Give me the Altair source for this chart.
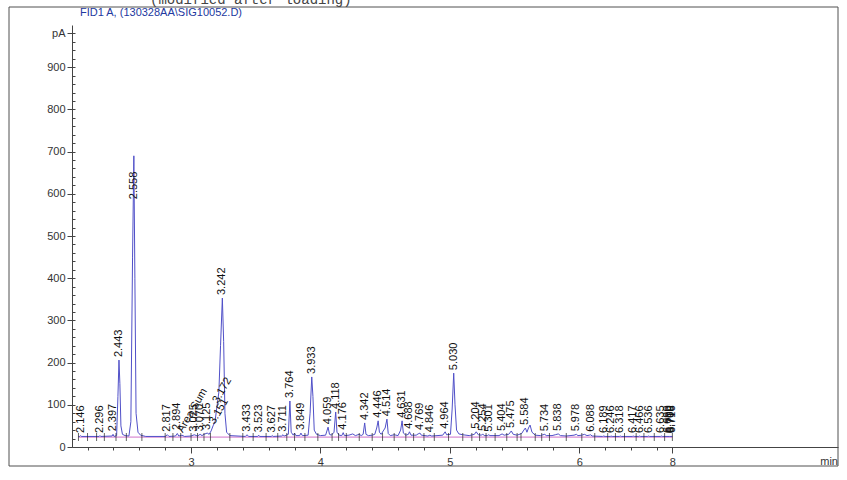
import altair as alt
import pandas as pd

# ---------------- data ----------------
# chromatogram trace: retention time (min) and signal (pA)
sig_t = [2.130, 2.140, 2.146, 2.152, 2.290, 2.296, 2.302, 2.390, 2.397, 2.405,
         2.425, 2.435, 2.443, 2.450, 2.458, 2.470, 2.490, 2.520, 2.535, 2.548,
         2.558, 2.566, 2.575, 2.590, 2.610, 2.650, 2.800, 2.817, 2.830, 2.880,
         2.894, 2.905, 2.930, 2.950, 3.000, 3.025, 3.050, 3.070, 3.085, 3.100,
         3.125, 3.140, 3.155, 3.170, 3.185, 3.200, 3.215, 3.228, 3.242, 3.252,
         3.262, 3.275, 3.300, 3.420, 3.433, 3.445, 3.515, 3.523, 3.530, 3.620,
         3.627, 3.635, 3.700, 3.711, 3.720, 3.752, 3.764, 3.774, 3.790, 3.800,
         3.810, 3.840, 3.849, 3.860, 3.905, 3.920, 3.933, 3.942, 3.952, 3.970,
         4.000, 4.040, 4.059, 4.070, 4.085, 4.105, 4.118, 4.128, 4.145, 4.165,
         4.176, 4.185, 4.220, 4.250, 4.270, 4.300, 4.315, 4.330, 4.342, 4.352,
         4.370, 4.400, 4.420, 4.435, 4.446, 4.456, 4.470, 4.485, 4.500, 4.514,
         4.524, 4.540, 4.570, 4.600, 4.620, 4.631, 4.641, 4.660, 4.680, 4.688,
         4.700, 4.740, 4.755, 4.769, 4.780, 4.830, 4.846, 4.860, 4.945, 4.964,
         4.975, 5.005, 5.018, 5.030, 5.040, 5.052, 5.070, 5.100, 5.150, 5.190,
         5.204, 5.220, 5.245, 5.254, 5.265, 5.290, 5.301, 5.310, 5.380, 5.404,
         5.420, 5.455, 5.475, 5.490, 5.520, 5.555, 5.572, 5.584, 5.596, 5.608,
         5.620, 5.635, 5.660, 5.700, 5.720, 5.734, 5.745, 5.790, 5.815, 5.838,
         5.855, 5.900, 5.960, 5.978, 5.990, 6.020, 6.040, 6.060, 6.078, 6.088,
         6.100, 6.180, 6.189, 6.200, 6.240, 6.246, 6.255, 6.310, 6.318, 6.326,
         6.410, 6.417, 6.425, 6.460, 6.466, 6.474, 6.530, 6.536, 6.544, 6.628,
         6.635, 6.643, 6.700, 6.720]
sig_v = [25, 25, 27, 25, 25, 27, 25, 26, 30, 25,
         27, 120, 206, 150, 50, 30, 27, 26, 60, 450,
         690, 400, 80, 35, 28, 25, 25, 29, 25, 26,
         32, 26, 28, 25, 26, 29, 26, 30, 27, 30,
         33, 30, 38, 50, 60, 95, 130, 240, 353, 250,
         80, 35, 27, 25, 29, 25, 25, 28, 25, 25,
         27, 25, 26, 29, 26, 30, 109, 35, 28, 33,
         27, 27, 33, 27, 28, 80, 166, 120, 40, 30,
         27, 28, 47, 30, 28, 35, 83, 35, 28, 27,
         34, 27, 28, 31, 27, 30, 27, 30, 57, 30,
         27, 28, 30, 45, 62, 35, 30, 38, 45, 66,
         32, 27, 29, 27, 40, 62, 33, 28, 30, 36,
         28, 28, 31, 33, 28, 26, 28, 26, 28, 36,
         29, 30, 90, 175, 100, 40, 31, 29, 27, 30,
         36, 29, 28, 31, 27, 27, 29, 27, 27, 31,
         28, 30, 38, 30, 28, 32, 40, 45, 35, 45,
         52, 35, 28, 27, 29, 30, 27, 27, 29, 31,
         27, 26, 28, 30, 27, 28, 30, 27, 28, 29,
         26, 25, 26, 25, 25, 26, 25, 25, 26, 25,
         25, 26, 25, 25, 26, 25, 25, 26, 25, 25,
         26, 25, 25, 25]

# integration baseline
base_t = [2.130, 6.720]
base_v = [23.5, 23.5]

# peak labels (retention time, text, pA level where the label starts)
peak_t = [2.146, 2.296, 2.397, 2.443, 2.558, 2.817, 2.894, 3.025, 3.070, 3.125,
          3.242, 3.433, 3.523, 3.627, 3.711, 3.764, 3.849, 3.933, 4.059, 4.118,
          4.176, 4.342, 4.446, 4.514, 4.631, 4.688, 4.769, 4.846, 4.964, 5.030,
          5.204, 5.254, 5.301, 5.404, 5.475, 5.584, 5.734, 5.838, 5.978, 6.088,
          6.189, 6.246, 6.318, 6.417, 6.466, 6.536, 6.635, 6.690, 6.700, 6.709,
          6.716]
peak_lbl = ["2.146", "2.296", "2.397", "2.443", "2.558", "2.817", "2.894", "3.025",
            "3.070", "3.125", "3.242", "3.433", "3.523", "3.627", "3.711", "3.764",
            "3.849", "3.933", "4.059", "4.118", "4.176", "4.342", "4.446", "4.514",
            "4.631", "4.688", "4.769", "4.846", "4.964", "5.030", "5.204", "5.254",
            "5.301", "5.404", "5.475", "5.584", "5.734", "5.838", "5.978", "6.088",
            "6.189", "6.246", "6.318", "6.417", "6.466", "6.536", "6.635", "6.690",
            "6.700", "6.709", "6.716"]
peak_h = [26, 26, 30, 206, 580, 29, 33, 29, 30, 33,
          353, 29, 28, 27, 29, 109, 33, 166, 47, 83,
          34, 57, 62, 66, 62, 36, 33, 28, 36, 175,
          36, 31, 29, 31, 38, 45, 30, 31, 30, 29,
          26, 26, 26, 26, 26, 26, 26, 26, 26, 26,
          26]

# slanted labels
slant_t = [2.905, 3.150, 3.176]
slant_lbl = ["Area Sum", "3.151", "3.172"]
slant_h = [30, 50, 100]

# peak start / end markers on the baseline
marker_t = [2.13, 2.20, 2.27, 2.33, 2.42, 2.50, 2.62, 2.80, 2.86, 2.92,
            3.00, 3.05, 3.10, 3.15, 3.30, 3.40, 3.48, 3.58, 3.67, 3.74,
            3.80, 3.88, 3.98, 4.09, 4.14, 4.20, 4.30, 4.40, 4.48, 4.57,
            4.66, 4.72, 4.80, 4.88, 4.99, 5.10, 5.17, 5.23, 5.28, 5.35,
            5.44, 5.52, 5.55, 5.66, 5.71, 5.77, 5.90, 6.02, 6.12, 6.22,
            6.28, 6.35, 6.44, 6.50, 6.58, 6.66, 6.72]

# axis ticks
x_major = [3, 4, 5, 6, 6.72]
x_minor = [round(2.2 + 0.2 * i, 1) for i in range(23)]
y_major = [0, 100, 200, 300, 400, 500, 600, 700, 800, 900, 980]
y_minor = [20 * i for i in range(50)]

title_text = "FID1 A,  (130328AA\\SIG10052.D)"
top_text = "(modified after loading)"

# ---------------- chart ----------------
W, H = 766, 422
XD = [2.08, 8.0]
YD = [0, 1000]
FONT = "Liberation Sans"
AX = "#444444"

xs = alt.Scale(domain=XD, nice=False, zero=False)
ys = alt.Scale(domain=YD, nice=False, zero=False)

sig_df = pd.DataFrame({"t": sig_t, "v": sig_v})
base_df = pd.DataFrame({"t": base_t, "v": base_v})
lbl_df = pd.DataFrame({"t": peak_t, "lbl": peak_lbl, "h": peak_h})
sl_df = pd.DataFrame({"t": slant_t, "lbl": slant_lbl, "h": slant_h})
mk_df = pd.DataFrame({"t": marker_t, "v": [base_v[0]] * len(marker_t)})
one = pd.DataFrame({"a": [0]})

major_x_axis = alt.Axis(values=x_major, title=None, grid=False, tickSize=6,
                        orient="bottom",
                        labelExpr="datum.value > 6.7 ? '8' : datum.label",
                        labelFont=FONT, labelFontSize=11, labelColor="#333333",
                        domainColor=AX, tickColor=AX, labelPadding=3, labelFlush=False)
major_y_axis = alt.Axis(values=y_major, title=None, grid=False, tickSize=5,
                        orient="left",
                        labelExpr="datum.value == 980 ? 'pA' : datum.label",
                        labelFont=FONT, labelFontSize=11, labelColor="#333333",
                        domainColor=AX, tickColor=AX, labelPadding=2)
minor_x_axis = alt.Axis(values=x_minor, title=None, grid=False, tickSize=3,
                        orient="bottom",
                        labels=False, domain=False, tickColor=AX)
minor_y_axis = alt.Axis(values=y_minor, title=None, grid=False, tickSize=3,
                        labels=False, domain=False, tickColor=AX,
                        orient="right", offset=-W)

frame = alt.Chart(one).mark_rect(fill="white", fillOpacity=0, stroke="#505050",
                                 strokeWidth=1).encode(
    x=alt.value(-63), x2=alt.value(W), y=alt.value(-18), y2=alt.value(441))

baseline = alt.Chart(base_df).mark_line(color="#d070c8", strokeWidth=1).encode(
    x=alt.X("t:Q", scale=xs, axis=minor_x_axis),
    y=alt.Y("v:Q", scale=ys, axis=minor_y_axis))

signal = alt.Chart(sig_df).mark_line(color="#5050c8", strokeWidth=1).encode(
    x=alt.X("t:Q", scale=xs, axis=major_x_axis),
    y=alt.Y("v:Q", scale=ys, axis=major_y_axis))

markers = alt.Chart(mk_df).mark_tick(orient="vertical", size=8, thickness=1,
                                     color="#222222").encode(
    x=alt.X("t:Q", scale=xs, axis=None),
    y=alt.Y("v:Q", scale=ys, axis=None))

labels = alt.Chart(lbl_df).mark_text(angle=270, align="left", baseline="middle",
                                     dx=3, font=FONT, fontSize=11,
                                     color="#111111").encode(
    x=alt.X("t:Q", scale=xs, axis=None),
    y=alt.Y("h:Q", scale=ys, axis=None),
    text="lbl:N")

slants = alt.Chart(sl_df).mark_text(angle=300, align="left", baseline="middle",
                                    dx=3, font=FONT, fontSize=11,
                                    color="#111111").encode(
    x=alt.X("t:Q", scale=xs, axis=None),
    y=alt.Y("h:Q", scale=ys, axis=None),
    text="lbl:N")

title = alt.Chart(one).mark_text(align="left", baseline="middle", font=FONT,
                                 fontSize=11, color="#2238a0").encode(
    x=alt.value(8), y=alt.value(-12), text=alt.value(title_text))

top = alt.Chart(one).mark_text(align="left", baseline="alphabetic",
                               font="Liberation Mono", fontSize=14,
                               color="#444444").encode(
    x=alt.value(78), y=alt.value(-21), text=alt.value(top_text))

unit = alt.Chart(one).mark_text(align="right", baseline="middle", font=FONT,
                                fontSize=11, color="#333333").encode(
    x=alt.value(W), y=alt.value(437), text=alt.value("min"))

chart = alt.layer(frame, baseline, signal, markers, labels, slants, title, top,
                  unit).resolve_scale(x="independent", y="independent").properties(
    width=W, height=H,
    padding={"left": 72, "top": 25, "right": 9, "bottom": 33},
    autosize=alt.AutoSizeParams(type="none"),
    background="white",
).configure_view(stroke=None)

chart.save("out.html", embed_options={"renderer": "svg", "actions": False})
